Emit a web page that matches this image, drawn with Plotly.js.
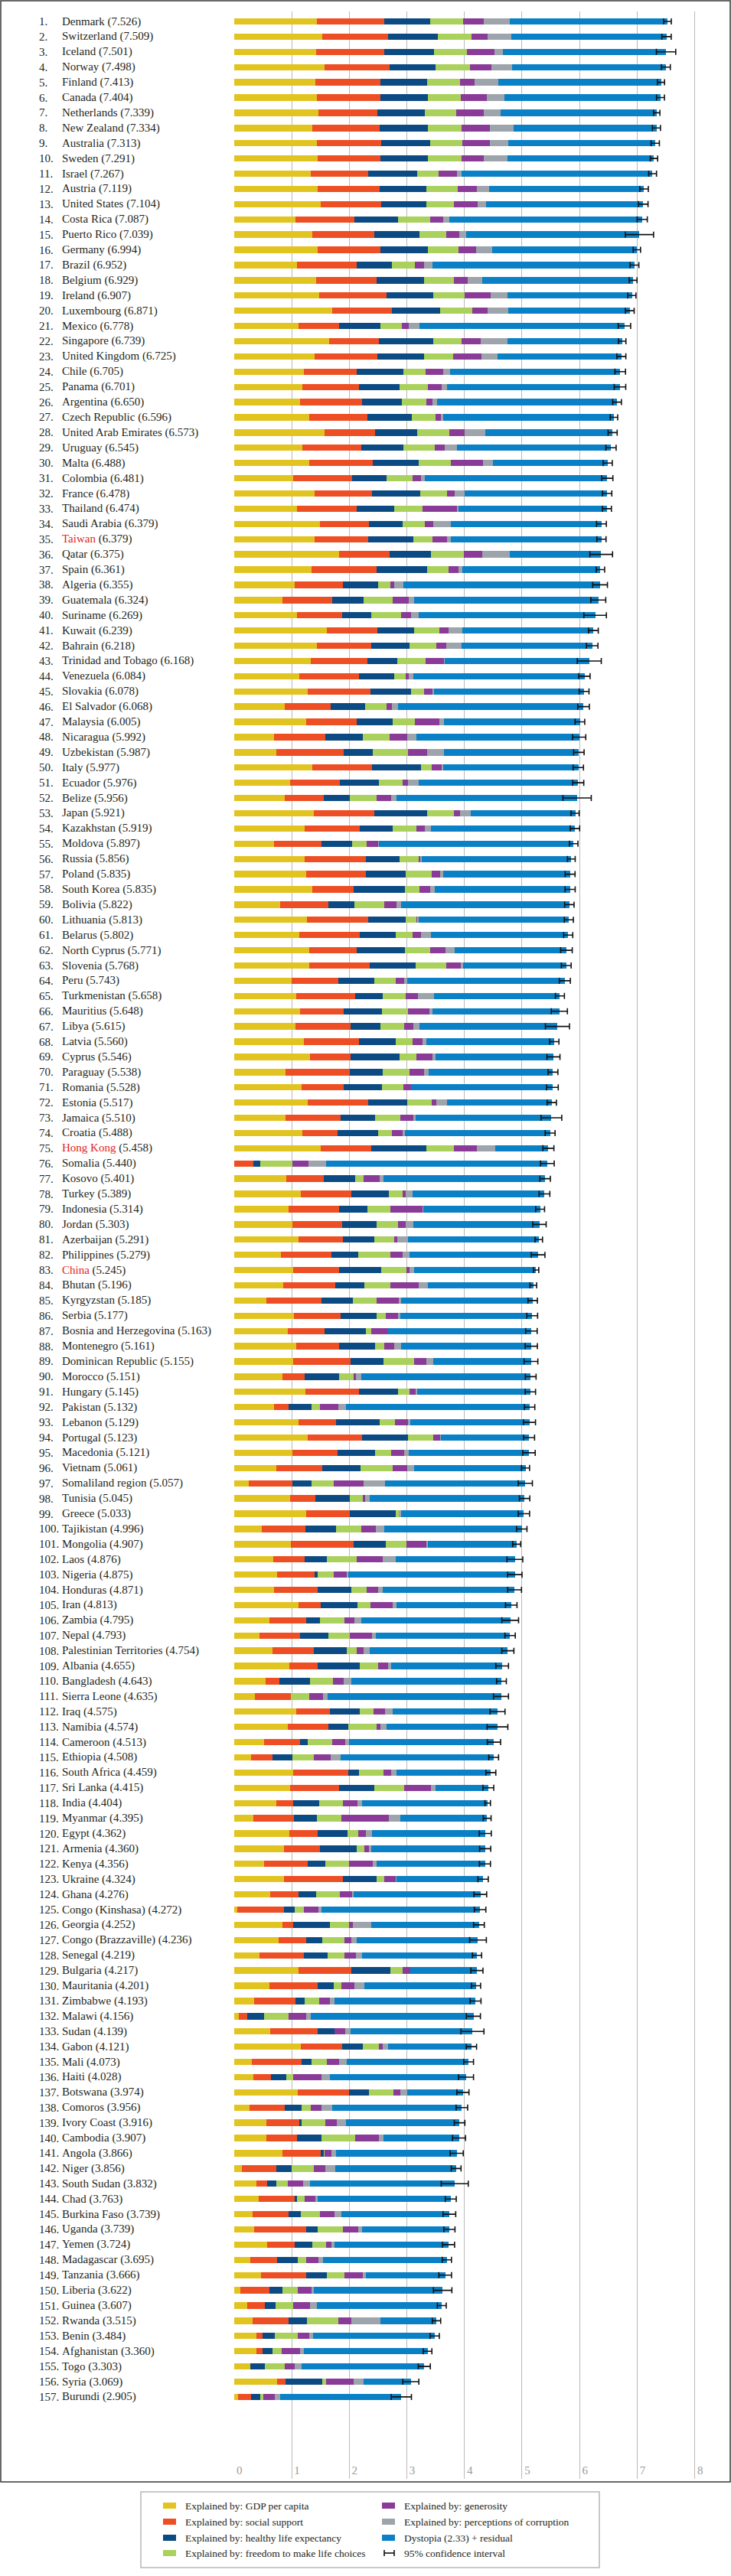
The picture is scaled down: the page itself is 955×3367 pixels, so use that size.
<!DOCTYPE html>
<html><head><meta charset="utf-8">
<script src="https://cdn.plot.ly/plotly-3.0.1.min.js"></script>
<style>html,body{margin:0;padding:0;background:#fff}#chart{width:955px;height:3367px}</style>
</head><body><div id="chart"></div>
<script>
const countries = ["Denmark","Switzerland","Iceland","Norway","Finland","Canada","Netherlands","New Zealand","Australia","Sweden",
"Israel","Austria","United States","Costa Rica","Puerto Rico","Germany","Brazil","Belgium","Ireland","Luxembourg",
"Mexico","Singapore","United Kingdom","Chile","Panama","Argentina","Czech Republic","United Arab Emirates","Uruguay","Malta",
"Colombia","France","Thailand","Saudi Arabia","Taiwan","Qatar","Spain","Algeria","Guatemala","Suriname",
"Kuwait","Bahrain","Trinidad and Tobago","Venezuela","Slovakia","El Salvador","Malaysia","Nicaragua","Uzbekistan","Italy",
"Ecuador","Belize","Japan","Kazakhstan","Moldova","Russia","Poland","South Korea","Bolivia","Lithuania",
"Belarus","North Cyprus","Slovenia","Peru","Turkmenistan","Mauritius","Libya","Latvia","Cyprus","Paraguay",
"Romania","Estonia","Jamaica","Croatia","Hong Kong","Somalia","Kosovo","Turkey","Indonesia","Jordan",
"Azerbaijan","Philippines","China","Bhutan","Kyrgyzstan","Serbia","Bosnia and Herzegovina","Montenegro","Dominican Republic","Morocco",
"Hungary","Pakistan","Lebanon","Portugal","Macedonia","Vietnam","Somaliland region","Tunisia","Greece","Tajikistan",
"Mongolia","Laos","Nigeria","Honduras","Iran","Zambia","Nepal","Palestinian Territories","Albania","Bangladesh",
"Sierra Leone","Iraq","Namibia","Cameroon","Ethiopia","South Africa","Sri Lanka","India","Myanmar","Egypt",
"Armenia","Kenya","Ukraine","Ghana","Congo (Kinshasa)","Georgia","Congo (Brazzaville)","Senegal","Bulgaria","Mauritania",
"Zimbabwe","Malawi","Sudan","Gabon","Mali","Haiti","Botswana","Comoros","Ivory Coast","Cambodia",
"Angola","Niger","South Sudan","Chad","Burkina Faso","Uganda","Yemen","Madagascar","Tanzania","Liberia",
"Guinea","Rwanda","Benin","Afghanistan","Togo","Syria","Burundi"];

const highlighted = ["Taiwan","Hong Kong","China"];

const scores = [7.526,7.509,7.501,7.498,7.413,7.404,7.339,7.334,7.313,7.291,
7.267,7.119,7.104,7.087,7.039,6.994,6.952,6.929,6.907,6.871,
6.778,6.739,6.725,6.705,6.701,6.650,6.596,6.573,6.545,6.488,
6.481,6.478,6.474,6.379,6.379,6.375,6.361,6.355,6.324,6.269,
6.239,6.218,6.168,6.084,6.078,6.068,6.005,5.992,5.987,5.977,
5.976,5.956,5.921,5.919,5.897,5.856,5.835,5.835,5.822,5.813,
5.802,5.771,5.768,5.743,5.658,5.648,5.615,5.560,5.546,5.538,
5.528,5.517,5.510,5.488,5.458,5.440,5.401,5.389,5.314,5.303,
5.291,5.279,5.245,5.196,5.185,5.177,5.163,5.161,5.155,5.151,
5.145,5.132,5.129,5.123,5.121,5.061,5.057,5.045,5.033,4.996,
4.907,4.876,4.875,4.871,4.813,4.795,4.793,4.754,4.655,4.643,
4.635,4.575,4.574,4.513,4.508,4.459,4.415,4.404,4.395,4.362,
4.360,4.356,4.324,4.276,4.272,4.252,4.236,4.219,4.217,4.201,
4.193,4.156,4.139,4.121,4.073,4.028,3.974,3.956,3.916,3.907,
3.866,3.856,3.832,3.763,3.739,3.739,3.724,3.695,3.666,3.622,
3.607,3.515,3.484,3.360,3.303,3.069,2.905];

const gdp = [1.442,1.527,1.427,1.577,1.406,1.440,1.465,1.361,1.444,1.452,
1.338,1.450,1.508,1.069,1.359,1.448,1.088,1.425,1.483,1.698,
1.115,1.646,1.403,1.217,1.183,1.151,1.309,1.574,1.182,1.308,
1.030,1.395,1.089,1.490,1.397,1.824,1.343,1.053,0.835,1.097,
1.617,1.440,1.326,1.134,1.280,0.874,1.251,0.694,0.736,1.355,
0.973,0.876,1.380,1.229,0.692,1.232,1.246,1.359,0.794,1.269,
1.131,1.311,1.299,0.996,1.080,1.144,1.067,1.218,1.319,0.894,
1.170,1.280,0.893,1.186,1.511,0.000,0.901,1.165,0.951,1.007,
1.124,0.812,1.028,0.853,0.560,1.034,0.934,1.078,1.028,0.841,
1.241,0.688,1.123,1.276,1.019,0.740,0.256,0.977,1.249,0.488,
0.989,0.680,0.752,0.694,1.118,0.612,0.446,0.670,0.955,0.542,
0.365,1.075,0.933,0.525,0.293,1.024,0.973,0.740,0.341,0.954,
0.861,0.523,0.873,0.631,0.057,0.838,0.770,0.443,1.113,0.614,
0.350,0.087,0.631,1.159,0.313,0.341,1.100,0.275,0.555,0.556,
0.847,0.133,0.394,0.422,0.320,0.347,0.579,0.280,0.472,0.107,
0.224,0.328,0.395,0.382,0.281,0.747,0.068];

const social = [1.164,1.145,1.183,1.127,1.135,1.096,1.029,1.173,1.105,1.088,
0.995,1.084,1.048,1.022,1.081,1.098,1.039,1.052,1.162,1.040,
0.715,0.868,1.087,0.906,0.989,1.066,1.008,0.871,1.031,1.099,
1.022,1.005,1.045,0.848,0.926,0.880,1.129,0.833,0.871,0.779,
0.878,0.944,0.986,1.033,1.083,0.810,0.880,0.895,1.168,1.042,
0.860,0.687,1.061,0.955,0.831,1.053,1.047,0.722,0.838,1.064,
1.050,0.818,1.056,0.813,1.027,0.757,0.951,0.950,0.707,1.111,
0.728,1.052,0.964,0.608,0.870,0.336,0.661,0.877,0.876,0.869,
0.760,0.879,0.794,0.908,0.954,0.813,0.644,0.742,0.990,0.386,
0.932,0.261,0.642,0.944,0.782,0.791,0.759,0.432,0.755,0.756,
1.090,0.550,0.645,0.756,0.389,0.638,0.697,0.716,0.502,0.247,
0.628,0.592,0.704,0.625,0.379,0.961,0.848,0.292,0.700,0.498,
0.625,0.762,1.014,0.494,0.807,0.192,0.480,0.765,0.925,0.841,
0.715,0.147,0.819,0.724,0.863,0.296,0.900,0.603,0.576,0.538,
0.664,0.605,0.185,0.632,0.631,0.910,0.475,0.461,0.776,0.504,
0.311,0.616,0.104,0.110,0.000,0.149,0.234];

const health = [0.795,0.863,0.867,0.796,0.811,0.828,0.812,0.831,0.851,0.831,
0.849,0.806,0.779,0.761,0.778,0.815,0.614,0.820,0.815,0.845,
0.711,0.947,0.810,0.819,0.708,0.697,0.764,0.730,0.722,0.803,
0.597,0.838,0.649,0.593,0.796,0.717,0.879,0.618,0.540,0.509,
0.636,0.657,0.526,0.619,0.704,0.596,0.624,0.652,0.502,0.851,
0.686,0.450,0.915,0.574,0.523,0.590,0.691,0.886,0.462,0.647,
0.631,0.841,0.792,0.630,0.470,0.662,0.523,0.640,0.849,0.583,
0.676,0.681,0.595,0.705,0.953,0.115,0.540,0.647,0.494,0.605,
0.545,0.470,0.736,0.498,0.554,0.634,0.708,0.635,0.580,0.595,
0.676,0.403,0.762,0.794,0.647,0.662,0.331,0.596,0.800,0.531,
0.555,0.383,0.051,0.584,0.642,0.236,0.501,0.568,0.730,0.530,
0.000,0.511,0.347,0.127,0.346,0.186,0.620,0.451,0.399,0.521,
0.641,0.301,0.586,0.297,0.188,0.640,0.280,0.410,0.678,0.280,
0.160,0.294,0.298,0.349,0.163,0.275,0.340,0.300,0.045,0.425,
0.050,0.262,0.158,0.038,0.213,0.196,0.310,0.371,0.357,0.232,
0.188,0.319,0.210,0.173,0.248,0.630,0.157];

const freedom = [0.579,0.586,0.566,0.596,0.571,0.574,0.552,0.581,0.568,0.582,
0.364,0.544,0.482,0.552,0.468,0.535,0.404,0.514,0.540,0.549,
0.377,0.488,0.500,0.378,0.489,0.423,0.414,0.562,0.544,0.550,
0.447,0.466,0.496,0.379,0.324,0.567,0.375,0.210,0.504,0.522,
0.432,0.474,0.485,0.198,0.234,0.373,0.390,0.466,0.608,0.188,
0.403,0.466,0.468,0.405,0.252,0.327,0.452,0.252,0.510,0.189,
0.291,0.436,0.532,0.375,0.400,0.461,0.407,0.297,0.295,0.462,
0.367,0.415,0.436,0.239,0.481,0.568,0.144,0.239,0.392,0.360,
0.353,0.549,0.440,0.461,0.402,0.157,0.095,0.151,0.530,0.256,
0.199,0.146,0.262,0.447,0.277,0.560,0.391,0.236,0.058,0.434,
0.360,0.522,0.279,0.268,0.225,0.427,0.370,0.177,0.319,0.398,
0.307,0.249,0.486,0.427,0.367,0.425,0.508,0.403,0.427,0.188,
0.140,0.406,0.129,0.410,0.156,0.325,0.385,0.300,0.212,0.130,
0.254,0.414,0.000,0.281,0.275,0.121,0.430,0.154,0.407,0.589,
0.006,0.380,0.197,0.128,0.334,0.437,0.229,0.137,0.318,0.257,
0.310,0.543,0.397,0.164,0.347,0.069,0.043];

const generosity = [0.362,0.281,0.477,0.379,0.255,0.448,0.474,0.494,0.474,0.383,
0.323,0.329,0.411,0.226,0.222,0.305,0.158,0.242,0.450,0.276,
0.117,0.327,0.502,0.316,0.240,0.110,0.099,0.266,0.181,0.562,
0.156,0.122,0.587,0.155,0.255,0.324,0.177,0.070,0.288,0.167,
0.160,0.171,0.319,0.043,0.138,0.089,0.415,0.298,0.343,0.167,
0.101,0.245,0.102,0.150,0.200,0.027,0.144,0.188,0.217,0.017,
0.139,0.263,0.257,0.145,0.220,0.369,0.171,0.170,0.279,0.253,
0.129,0.084,0.222,0.184,0.401,0.272,0.280,0.047,0.565,0.143,
0.056,0.217,0.049,0.485,0.384,0.207,0.299,0.172,0.210,0.042,
0.100,0.312,0.237,0.117,0.235,0.251,0.515,0.039,0.000,0.253,
0.345,0.440,0.232,0.204,0.385,0.179,0.382,0.112,0.168,0.191,
0.239,0.196,0.078,0.227,0.295,0.137,0.470,0.254,0.820,0.127,
0.078,0.413,0.204,0.212,0.255,0.068,0.120,0.200,0.128,0.230,
0.185,0.310,0.181,0.062,0.211,0.480,0.120,0.183,0.203,0.403,
0.121,0.210,0.259,0.187,0.244,0.271,0.098,0.220,0.315,0.241,
0.290,0.236,0.202,0.313,0.175,0.484,0.203];

const corruption = [0.445,0.412,0.150,0.358,0.410,0.313,0.299,0.419,0.323,0.409,
0.087,0.213,0.149,0.105,0.123,0.286,0.142,0.262,0.298,0.353,
0.184,0.470,0.274,0.115,0.084,0.073,0.040,0.356,0.214,0.176,
0.054,0.178,0.028,0.300,0.066,0.480,0.061,0.162,0.087,0.127,
0.237,0.258,0.012,0.083,0.029,0.106,0.091,0.163,0.283,0.026,
0.180,0.101,0.181,0.111,0.019,0.036,0.055,0.077,0.077,0.020,
0.175,0.165,0.036,0.053,0.280,0.052,0.103,0.070,0.052,0.074,
0.007,0.185,0.043,0.040,0.316,0.312,0.065,0.123,0.003,0.133,
0.179,0.118,0.082,0.162,0.048,0.040,0.000,0.127,0.120,0.084,
0.025,0.139,0.031,0.015,0.070,0.116,0.368,0.082,0.041,0.152,
0.033,0.230,0.031,0.069,0.056,0.115,0.070,0.106,0.053,0.126,
0.082,0.136,0.104,0.061,0.172,0.084,0.080,0.087,0.202,0.106,
0.036,0.067,0.018,0.038,0.061,0.319,0.090,0.100,0.006,0.170,
0.086,0.076,0.100,0.093,0.136,0.145,0.120,0.184,0.155,0.081,
0.084,0.172,0.130,0.050,0.125,0.064,0.059,0.075,0.051,0.049,
0.110,0.505,0.067,0.071,0.116,0.172,0.094];

const dystopia = [2.739,2.695,2.831,2.665,2.826,2.705,2.707,2.476,2.547,2.547,
3.310,2.693,2.728,3.352,3.008,2.509,3.507,2.614,2.160,2.111,
3.559,1.994,2.150,2.955,3.008,3.130,2.962,2.215,2.671,1.990,
3.175,2.475,2.580,2.615,2.615,1.582,2.397,3.409,3.199,3.069,
2.281,2.274,2.514,2.975,2.611,3.221,2.354,2.824,2.346,2.349,
2.774,3.132,1.818,2.493,3.380,2.591,2.200,2.350,2.923,2.605,
2.386,1.936,1.795,2.731,2.181,2.203,2.394,2.216,2.045,2.161,
2.452,1.820,2.357,2.525,0.926,3.838,2.810,2.291,2.032,2.186,
2.274,2.235,2.117,1.829,2.281,2.291,2.484,2.255,1.698,2.947,
1.972,3.183,2.073,1.530,2.090,1.942,2.438,2.684,2.130,2.382,
1.536,2.071,2.886,2.296,1.998,2.590,2.327,2.404,1.928,2.609,
3.014,1.817,1.922,2.520,2.656,1.643,0.916,2.177,1.506,1.967,
1.979,1.884,1.500,2.195,2.749,1.870,2.111,2.001,1.154,1.936,
2.443,2.829,2.110,1.453,2.111,2.371,0.964,2.257,1.975,1.316,
2.094,2.095,2.509,2.307,1.873,1.514,1.973,2.151,1.378,2.233,
2.174,0.968,2.108,2.146,2.136,0.818,2.105];

const ciHalf = [0.066,0.081,0.168,0.077,0.062,0.069,0.055,0.070,0.072,0.064,
0.068,0.074,0.084,0.088,0.245,0.064,0.077,0.068,0.071,0.076,
0.108,0.065,0.078,0.092,0.100,0.076,0.065,0.079,0.089,0.079,
0.097,0.081,0.078,0.085,0.080,0.197,0.073,0.128,0.130,0.196,
0.085,0.100,0.208,0.098,0.085,0.101,0.084,0.115,0.091,0.090,
0.096,0.246,0.071,0.082,0.074,0.067,0.086,0.088,0.082,0.079,
0.079,0.101,0.085,0.096,0.078,0.140,0.209,0.081,0.113,0.085,
0.101,0.080,0.180,0.086,0.096,0.119,0.091,0.094,0.077,0.116,
0.065,0.119,0.046,0.058,0.082,0.094,0.100,0.106,0.120,0.093,
0.090,0.090,0.105,0.095,0.108,0.070,0.123,0.090,0.098,0.090,
0.070,0.137,0.125,0.120,0.100,0.145,0.090,0.105,0.110,0.085,
0.130,0.130,0.180,0.115,0.085,0.086,0.094,0.048,0.068,0.105,
0.097,0.096,0.090,0.110,0.100,0.093,0.145,0.080,0.105,0.080,
0.095,0.122,0.200,0.090,0.085,0.130,0.105,0.100,0.092,0.113,
0.114,0.085,0.235,0.095,0.110,0.097,0.105,0.080,0.110,0.160,
0.077,0.073,0.080,0.075,0.105,0.140,0.175];

const xTickValues = [0,1,2,3,4,5,6,7,8];
const xTickLabels = ["0","1","2","3","4","5","6","7","8"];

const seriesNames = ["Explained by: GDP per capita","Explained by: social support","Explained by: healthy life expectancy",
  "Explained by: freedom to make life choices","Explained by: generosity","Explained by: perceptions of corruption",
  "Dystopia (2.33) + residual"];
const ciName = "95% confidence interval";

/* ---------- styling / layout ---------- */
const seriesColors = ["#E2C420","#EE4E23","#0C4A84","#A9D15B","#8A3B98","#9DA4AB","#0A81C6"];
const seriesValues = [gdp, social, health, freedom, generosity, corruption, dystopia];

const W = 955, H = 3367, ML = 305, MR = 36, MT = 15, MB = 127;
const PW = W - ML - MR, PH = H - MT - MB;
const xp = px => (px - ML) / PW;
const yp = py => (H - MB - py) / PH;
const FONT = '"Liberation Serif", "Times New Roman", serif';
const TXT = '#231f20';

const traces = seriesValues.map((vals, k) => ({
  type: 'bar', orientation: 'h', name: seriesNames[k], x: vals, y: countries,
  marker: {color: seriesColors[k], line: {width: 0}}, hoverinfo: 'skip', showlegend: false
}));
traces.push({
  type: 'scatter', mode: 'markers', name: ciName, x: scores, y: countries,
  marker: {size: 2, opacity: 0}, hoverinfo: 'skip', showlegend: false,
  error_x: {type: 'data', symmetric: true, array: ciHalf, visible: true, color: '#111111', thickness: 1.6, width: 4}
});

const annotations = [];
countries.forEach((c, i) => {
  annotations.push({xref: 'paper', yref: 'y', x: xp(49), y: c, xanchor: 'left', yanchor: 'middle',
    text: (i + 1) + '.', showarrow: false, font: {family: FONT, size: 15, color: TXT}});
  const nm = highlighted.includes(c) ? '<span style="color:#E3241B">' + c + '</span>' : c;
  annotations.push({xref: 'paper', yref: 'y', x: xp(79), y: c, xanchor: 'left', yanchor: 'middle',
    text: nm + ' (' + scores[i].toFixed(3) + ')', showarrow: false, font: {family: FONT, size: 15, color: TXT}});
});

const shapes = [];
// outer chart frame
shapes.push({type: 'rect', xref: 'paper', yref: 'paper', x0: xp(1), x1: xp(954), y0: yp(1), y1: yp(3244),
  line: {color: '#3a3a3a', width: 1.5}, fillcolor: 'rgba(0,0,0,0)', layer: 'above'});
// legend box
shapes.push({type: 'rect', xref: 'paper', yref: 'paper', x0: xp(184), x1: xp(783), y0: yp(3257), y1: yp(3356),
  line: {color: '#b8b8b8', width: 1.5}, fillcolor: 'rgba(0,0,0,0)', layer: 'above'});

const LEGFONT = 13.5;
const legRows = [3275, 3296, 3317, 3337];
const legCols = [{sw: 213, tx: 240}, {sw: 499, tx: 526}];
const legendItems = [
  {k: 0, col: 0, row: 0}, {k: 1, col: 0, row: 1}, {k: 2, col: 0, row: 2}, {k: 3, col: 0, row: 3},
  {k: 4, col: 1, row: 0}, {k: 5, col: 1, row: 1}, {k: 6, col: 1, row: 2}
];
legendItems.forEach(it => {
  const cy = legRows[it.row], c = legCols[it.col];
  shapes.push({type: 'rect', xref: 'paper', yref: 'paper', x0: xp(c.sw), x1: xp(c.sw + 17),
    y0: yp(cy - 4), y1: yp(cy + 4), line: {width: 0}, fillcolor: seriesColors[it.k], layer: 'above'});
  annotations.push({xref: 'paper', yref: 'paper', x: xp(c.tx), y: yp(cy), xanchor: 'left', yanchor: 'middle',
    text: seriesNames[it.k], showarrow: false, font: {family: FONT, size: LEGFONT, color: TXT}});
});
// CI legend symbol
{
  const cy = legRows[3], c = legCols[1];
  const x0 = c.sw + 3, x1 = c.sw + 16;
  shapes.push({type: 'line', xref: 'paper', yref: 'paper', x0: xp(x0), x1: xp(x1), y0: yp(cy), y1: yp(cy), line: {color: '#111', width: 1.6}});
  shapes.push({type: 'line', xref: 'paper', yref: 'paper', x0: xp(x0), x1: xp(x0), y0: yp(cy - 4), y1: yp(cy + 4), line: {color: '#111', width: 1.6}});
  shapes.push({type: 'line', xref: 'paper', yref: 'paper', x0: xp(x1), x1: xp(x1), y0: yp(cy - 4), y1: yp(cy + 4), line: {color: '#111', width: 1.6}});
  annotations.push({xref: 'paper', yref: 'paper', x: xp(c.tx), y: yp(cy), xanchor: 'left', yanchor: 'middle',
    text: ciName, showarrow: false, font: {family: FONT, size: LEGFONT, color: TXT}});
}

const n = countries.length;
const layout = {
  width: W, height: H,
  margin: {l: ML, r: MR, t: MT, b: MB, pad: 0},
  paper_bgcolor: '#ffffff', plot_bgcolor: '#ffffff',
  barmode: 'stack', bargap: 0.58,
  showlegend: false,
  xaxis: {
    range: [-0.01, 8.15], tickmode: 'array', tickvals: xTickValues, ticktext: xTickLabels,
    showgrid: true, gridcolor: '#b9b9b9', gridwidth: 1, zeroline: false, showline: false, ticks: '',
    ticklabelposition: 'inside', ticklabelshift: 7,
    tickfont: {family: FONT, size: 15, color: '#9a9a9a'}, fixedrange: true
  },
  yaxis: {
    type: 'category', categoryorder: 'array', categoryarray: countries,
    range: [n - 1 + 5.38, -0.653], showgrid: false, showticklabels: false, zeroline: false, ticks: '', fixedrange: true
  },
  annotations: annotations,
  shapes: shapes
};

Plotly.newPlot('chart', traces, layout, {staticPlot: true, displayModeBar: false});
</script>
</body></html>
